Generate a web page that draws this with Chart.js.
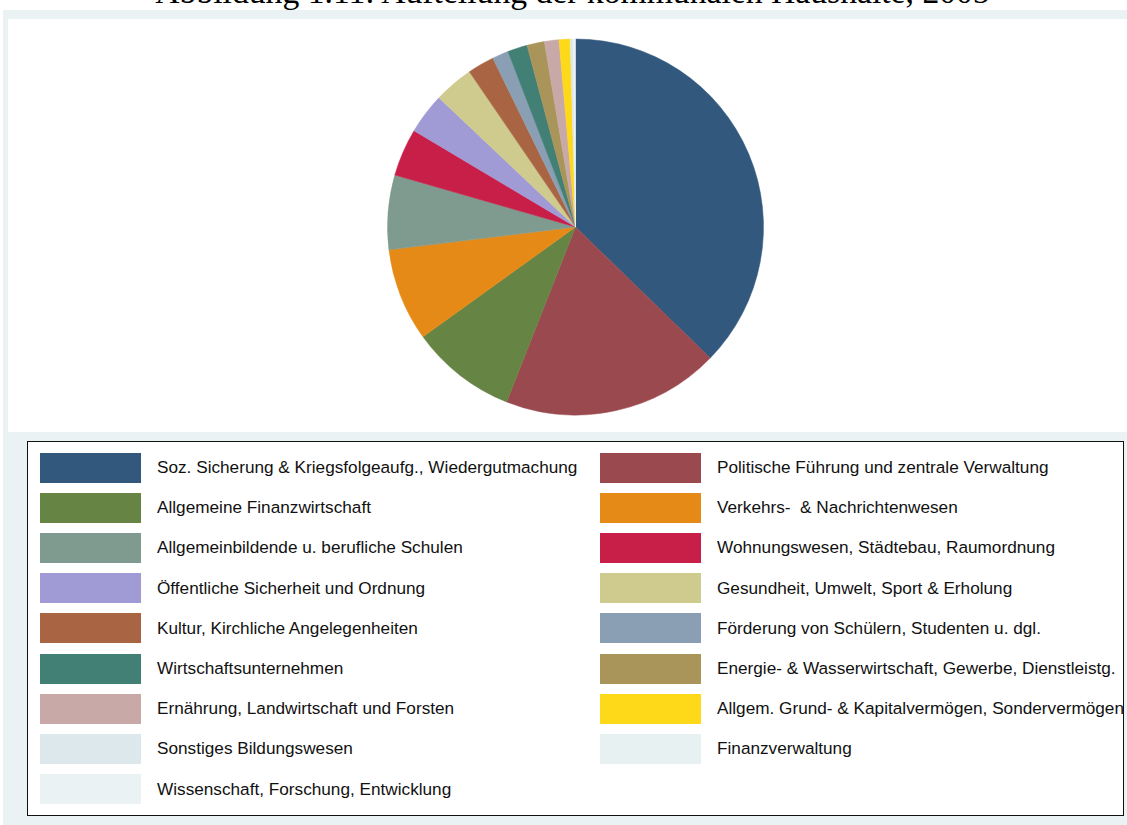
<!DOCTYPE html>
<html>
<head>
<meta charset="utf-8">
<script src="https://cdn.jsdelivr.net/npm/chart.js@4.4.1/dist/chart.umd.min.js"></script>
<style>
  html, body { margin: 0; padding: 0; background: #ffffff; width: 1127px; height: 825px; overflow: hidden; position: relative; }
  #title { position: absolute; left: 0; width: 1127px; text-align: center; font-family: "Liberation Serif", "DejaVu Serif", serif; white-space: nowrap; line-height: 1; color: #000; }
  #panel { position: absolute; left: 3px; top: 10px; width: 1124px; height: 815px; background: #EAF2F3; }
  #plot { position: absolute; left: 8px; top: 19px; width: 1119px; height: 413px; background: #ffffff; }
  #legend { position: absolute; left: 27px; top: 441px; width: 1097px; height: 375px; background: #ffffff; border: 1.5px solid #111; box-sizing: border-box; overflow: visible; }
  .item { position: absolute; height: 30px; display: flex; align-items: center; font-family: "Liberation Sans", Arial, sans-serif; font-size: 17.2px; color: #111; white-space: pre; }
  .sw { width: 101px; height: 30px; margin-right: 16.5px; flex: none; }
</style>
</head>
<body>
<div id="title">Abbildung 1.11: Aufteilung der kommunalen Haushalte, 2005</div>
<div id="panel"></div>
<div id="plot"><canvas id="c" width="1119" height="411"></canvas></div>
<div id="legend"></div>
<script>
const titleText = "Abbildung 1.11: Aufteilung der kommunalen Haushalte, 2005";
const categories = [
  "Soz. Sicherung & Kriegsfolgeaufg., Wiedergutmachung",
  "Politische Führung und zentrale Verwaltung",
  "Allgemeine Finanzwirtschaft",
  "Verkehrs-  & Nachrichtenwesen",
  "Allgemeinbildende u. berufliche Schulen",
  "Wohnungswesen, Städtebau, Raumordnung",
  "Öffentliche Sicherheit und Ordnung",
  "Gesundheit, Umwelt, Sport & Erholung",
  "Kultur, Kirchliche Angelegenheiten",
  "Förderung von Schülern, Studenten u. dgl.",
  "Wirtschaftsunternehmen",
  "Energie- & Wasserwirtschaft, Gewerbe, Dienstleistg.",
  "Ernährung, Landwirtschaft und Forsten",
  "Allgem. Grund- & Kapitalvermögen, Sondervermögen",
  "Sonstiges Bildungswesen",
  "Finanzverwaltung",
  "Wissenschaft, Forschung, Entwicklung"
];
const shares = [37.3, 18.7, 9.1, 8.0, 6.4, 4.1, 3.5, 3.4, 2.3, 1.4, 1.7, 1.5, 1.25, 0.95, 0.25, 0.1, 0.1];
const colors = [
  "#32587D", "#9A4A4F", "#668443", "#E68A17", "#7F9A8F", "#C81F48",
  "#A09AD5", "#CFCA8E", "#A96543", "#8A9FB3", "#427F74", "#A99559",
  "#C8A9A7", "#FDD91A", "#DDE8EC", "#E8F1F2", "#EAF2F3"
];

// title: fit to reference width, baseline near y=3
(function(){
  const t = document.getElementById('title');
  let fs = 30;
  t.style.fontSize = fs + 'px';
  const span = document.createElement('span');
  span.textContent = titleText;
  t.textContent = '';
  t.appendChild(span);
  const w = span.getBoundingClientRect().width;
  fs = fs * 835 / w;
  t.style.fontSize = fs + 'px';
  t.style.left = (155 - (1127 - 835) / 2) + 'px';
  t.style.top = (3 - 0.8375 * fs) + 'px';
})();

// legend (two columns, row-major, from the arrays)
(function(){
  const lg = document.getElementById('legend');
  categories.forEach((lab, i) => {
    const col = i % 2, row = Math.floor(i / 2);
    const d = document.createElement('div');
    d.className = 'item';
    d.style.left = (col === 0 ? 11.5 : 571.5) + 'px';
    d.style.top = (10.5 + row * 40.2) + 'px';
    const s = document.createElement('div');
    s.className = 'sw';
    s.style.background = colors[i];
    const tx = document.createElement('span');
    tx.textContent = lab;
    d.appendChild(s); d.appendChild(tx);
    lg.appendChild(d);
  });
})();

new Chart(document.getElementById('c'), {
  type: 'pie',
  data: {
    labels: categories,
    datasets: [{
      data: shares,
      backgroundColor: colors,
      borderColor: colors,
      borderWidth: 0.5
    }]
  },
  options: {
    responsive: false,
    animation: false,
    radius: 188,
    layout: { padding: { left: 16, right: 0, top: 20, bottom: 15 } },
    plugins: { legend: { display: false }, tooltip: { enabled: false }, title: { display: false } }
  }
});
</script>
</body>
</html>
